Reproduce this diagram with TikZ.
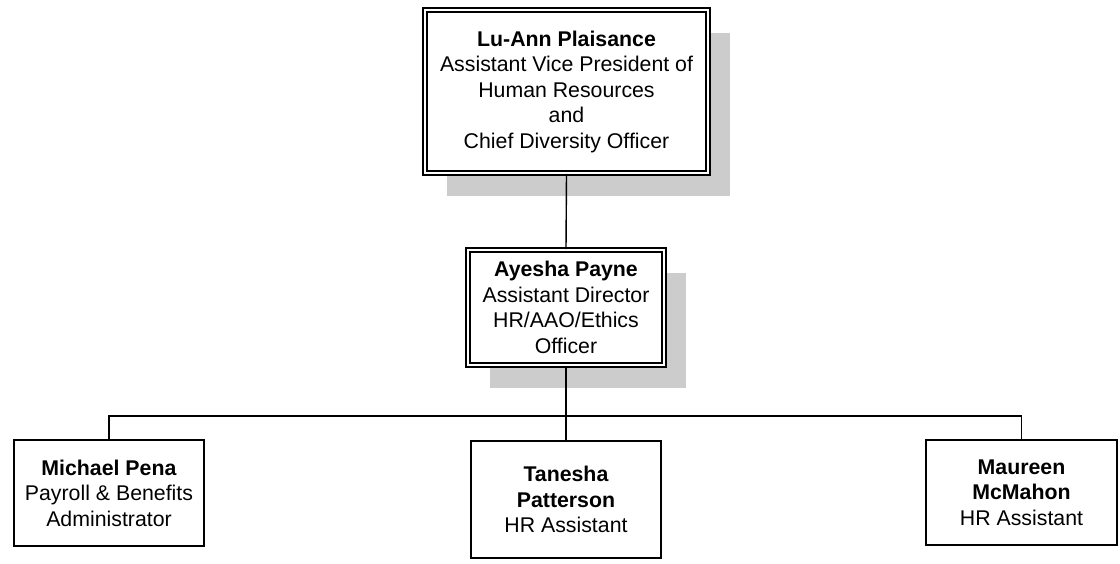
\documentclass[tikz,border=0pt]{standalone}
\usepackage{fontspec}
\setmainfont{Liberation Sans}
\usetikzlibrary{shadows}
\begin{document}
\begin{tikzpicture}[x=1pt,y=-1pt,
  txt/.style={align=center,inner sep=0pt,font=\fontsize{21.3}{25.5}\selectfont},
  dbox/.style={txt,draw,fill=white,double,line width=1.8pt,double distance=2.2pt,
    drop shadow={shadow xshift=22pt,shadow yshift=-23pt,fill=black!20,opacity=1}},
  sbox/.style={txt,draw,fill=white,line width=2pt},
  conn/.style={line width=1.4pt}]
\useasboundingbox (0,0) rectangle (1120,563);
\node[dbox,minimum width=283pt,minimum height=163pt] (top) at (566.5,91.5)
  {\textbf{Lu-Ann Plaisance}\\Assistant Vice President of\\Human Resources\\and\\Chief Diversity Officer};
\node[dbox,minimum width=196pt,minimum height=115pt] (mid) at (566,307.5)
  {\textbf{Ayesha Payne}\\Assistant Director\\HR/AAO/Ethics\\Officer};
\node[sbox,minimum width=190pt,minimum height=106pt] (mp) at (109,493)
  {\textbf{Michael Pena}\\Payroll \& Benefits\\Administrator};
\node[sbox,minimum width=190pt,minimum height=117pt] (tp) at (566,499.5)
  {\textbf{Tanesha}\\\textbf{Patterson}\\HR Assistant};
\node[sbox,minimum width=191pt,minimum height=105pt] (mm) at (1021.5,492.5)
  {\textbf{Maureen}\\\textbf{McMahon}\\HR Assistant};
\coordinate (bus) at (566,416);
\draw[conn] (top.south) -- (mid.north);
\draw[conn] (mid.south) -- (bus) -- (tp.north);
\draw[conn] (mp.north) |- (bus) -| (mm.north);
\end{tikzpicture}
\end{document}
